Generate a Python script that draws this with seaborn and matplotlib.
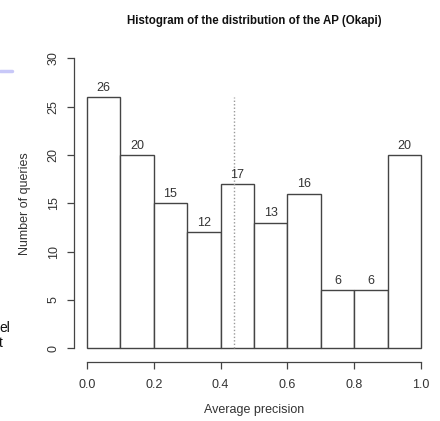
import matplotlib
matplotlib.use("Agg")
import matplotlib.pyplot as plt
import seaborn as sns
import numpy as np
import pandas as pd

# histogram bins (Average precision) and counts
bin_edges = [0.0, 0.1, 0.2, 0.3, 0.4, 0.5, 0.6, 0.7, 0.8, 0.9, 1.0]
counts = [26, 20, 15, 12, 17, 13, 16, 6, 6, 20]
mean_ap = 0.44
mean_line_top = 26
x_ticks = [0.0, 0.2, 0.4, 0.6, 0.8, 1.0]
y_ticks = [0, 5, 10, 15, 20, 25, 30]

centers = [(a + b) / 2 for a, b in zip(bin_edges[:-1], bin_edges[1:])]
df = pd.DataFrame({"ap": centers, "n": counts})

sns.set_theme(style="white")
plt.rcParams["font.family"] = ["Liberation Sans", "DejaVu Sans"]
fg = "#333333"

W, H = 440, 421
fig = plt.figure(figsize=(W / 100, H / 100), dpi=100)
ax = fig.add_axes([73.6 / W, 1 - 359.6 / H, 360.8 / W, 312.7 / H])

sns.histplot(data=df, x="ap", weights="n", bins=bin_edges, ax=ax,
             color="white", edgecolor="#444444", linewidth=1.0, alpha=1)

ax.vlines(mean_ap, 0, mean_line_top, colors="#999999", linestyles=(0, (1, 1.5)),
          linewidth=1.0)

for c, n in zip(centers, counts):
    ax.text(c, n + 0.35, str(n), ha="center", va="bottom", fontsize=9, color=fg)

ax.set_xlim(-0.04, 1.04)
ax.set_ylim(-1.2, 31.2)
ax.set_xticks(x_ticks)
ax.set_xticklabels([f"{t:.1f}" for t in x_ticks])
ax.set_yticks(y_ticks)
ax.set_yticklabels([str(t) for t in y_ticks], rotation=90, va="center")

for s in ["top", "right"]:
    ax.spines[s].set_visible(False)
ax.spines["left"].set_bounds(0, 30)
ax.spines["bottom"].set_bounds(0, 1)
ax.spines["bottom"].set_position(("outward", 2))
for s in ["left", "bottom"]:
    ax.spines[s].set_color("#444444")
    ax.spines[s].set_linewidth(0.9)

ax.tick_params(axis="both", bottom=True, left=True, direction="out", length=5,
               width=0.9, color="#444444", labelsize=9, labelcolor=fg)
ax.tick_params(axis="x", pad=7)
ax.tick_params(axis="y", pad=5)

ax.set_xlabel("Average precision", fontsize=9, color=fg, labelpad=9)
ax.set_ylabel("Number of queries", fontsize=9, color=fg, labelpad=12)

fig.text(254 / W, 1 - 21 / H, "Histogram of the distribution of the AP (Okapi)",
         ha="center", va="center", fontsize=8.3, fontweight="bold", color="#111111")

# fragments cut off at the left edge of the screenshot
fig.add_artist(plt.Line2D([0, 12 / W], [1 - 71 / H, 1 - 71 / H],
                          color="#c8c8f8", linewidth=2.5))
fig.text(-1 / W, 1 - 328 / H, "el", ha="left", va="center", fontsize=10, color="#111111")
fig.text(-1 / W, 1 - 343 / H, "t", ha="left", va="center", fontsize=10, color="#111111")

fig.savefig("out.png", dpi=100)
